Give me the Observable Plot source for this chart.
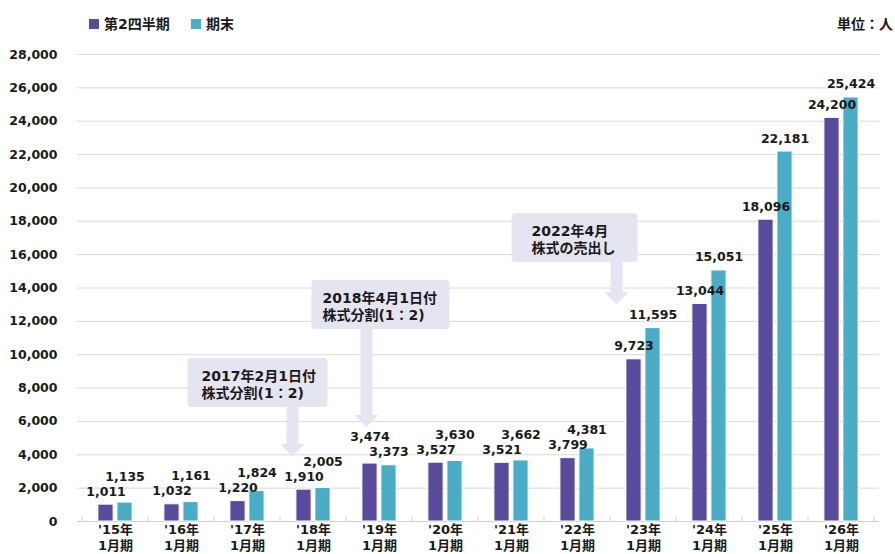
<!DOCTYPE html>
<html lang="ja">
<head>
<meta charset="utf-8">
<script src="https://cdn.jsdelivr.net/npm/d3@7"></script>
<script src="https://cdn.jsdelivr.net/npm/@observablehq/plot@0.6"></script>
<style>
  html, body { margin: 0; padding: 0; background: #fff; }
  body { width: 895px; font-family: "DejaVu Sans", "Noto Sans CJK JP", sans-serif; color: #1a1a1a; }
  .legend { position: relative; height: 40px; font-size: 14px; font-weight: bold; }
  .legend .item { position: absolute; top: 14px; display: flex; align-items: center; line-height: 20px; }
  .legend .swatch { width: 10px; height: 10px; margin-right: 5px; }
  .legend .unit { position: absolute; right: 2px; top: 14px; line-height: 20px; }
</style>
</head>
<body>
<div class="legend" id="legend"></div>
<div id="chart"></div>
<script>
// Fiscal periods (January year-end)
const categories = ["'15年1月期", "'16年1月期", "'17年1月期", "'18年1月期", "'19年1月期", "'20年1月期",
                    "'21年1月期", "'22年1月期", "'23年1月期", "'24年1月期", "'25年1月期", "'26年1月期"];
const seriesNames = ["第2四半期", "期末"];
// Headcount at the end of Q2 and at fiscal year end
const q2Values = [1011, 1032, 1220, 1910, 3474, 3527, 3521, 3799, 9723, 13044, 18096, 24200];
const fyValues = [1135, 1161, 1824, 2005, 3373, 3630, 3662, 4381, 11595, 15051, 22181, 25424];
const yTicks = [0, 2000, 4000, 6000, 8000, 10000, 12000, 14000, 16000, 18000, 20000, 22000, 24000, 26000, 28000];
const unitLabel = "単位：人";

// Event call-outs: the period they point at, the value at the arrow tip and at the box top
const notes = [
  {cat: "'18年1月期", tip: 3900, top: 9770, lines: ["2017年2月1日付", "株式分割(1：2)"]},
  {cat: "'19年1月期", tip: 5630, top: 14450, lines: ["2018年4月1日付", "株式分割(1：2)"]},
  {cat: "'23年1月期", tip: 13000, top: 18460, lines: ["2022年4月", "株式の売出し"]}
];

// Call-out box placement relative to the arrow (pixels)
const noteLayout = [
  {at: 0.19, left: -105, width: 140, pad: 14},
  {at: 0.31, left: -55, width: 138, pad: 11},
  {at: 0.10, left: -105, width: 126, pad: 20}
];

const colors = ["#594a9b", "#4bacc6"];
const fmt = d3.format(",");

const rows = categories.flatMap((cat, i) => [
  {cat, series: seriesNames[0], value: q2Values[i], other: fyValues[i]},
  {cat, series: seriesNames[1], value: fyValues[i], other: q2Values[i]}
]);
// When the two bars of a period are close, lift the taller bar's label above its neighbour
const labelGap = 900;
rows.forEach(d => {
  d.labelY = (d.value >= d.other && d.value - d.other < labelGap) ? d.other + labelGap : d.value;
});

// Legend and unit
const legend = d3.select("#legend");
const legendX = [89, 191];
seriesNames.forEach((name, i) => {
  const item = legend.append("div").attr("class", "item").style("left", legendX[i] + "px");
  item.append("div").attr("class", "swatch").style("background", colors[i]);
  item.append("span").text(name);
});
legend.append("div").attr("class", "unit").text(unitLabel);

// Category boundary ticks and call-out boxes, positioned with the plot's scales
function overlay(index, scales, values, dimensions) {
  const x = scales.x, y = scales.y;
  const bw = x.bandwidth ? x.bandwidth()
    : (dimensions.width - dimensions.marginLeft - dimensions.marginRight) / categories.length;
  const g = d3.create("svg:g");
  const y0 = y(0);
  const bounds = categories.map(c => x(c)).concat([x(categories[categories.length - 1]) + bw]);
  g.selectAll("line").data(bounds).join("line")
    .attr("x1", d => d).attr("x2", d => d)
    .attr("y1", y0 - 4).attr("y2", y0)
    .attr("stroke", "#cfcfcf");

  notes.forEach((n, i) => {
    const L = noteLayout[i];
    const tx = x(n.cat) + L.at * bw;
    const ty = y(n.tip);
    const top = y(n.top);
    const h = 49;
    const bx = tx + L.left;
    const bottom = top + h;
    const shaft = 6, head = 12, headH = 12;
    const fill = "#e5e4f1";
    g.append("rect")
      .attr("x", bx).attr("y", top).attr("width", L.width).attr("height", h)
      .attr("rx", 4).attr("fill", fill);
    g.append("path")
      .attr("d", `M${tx - shaft},${bottom - 1} L${tx + shaft},${bottom - 1} L${tx + shaft},${ty - headH}
                  L${tx + head},${ty - headH} L${tx},${ty} L${tx - head},${ty - headH}
                  L${tx - shaft},${ty - headH} Z`)
      .attr("fill", fill);
    const t = g.append("text")
      .attr("text-anchor", "start")
      .attr("font-size", 14).attr("font-weight", "bold").attr("fill", "#1a1a1a");
    n.lines.forEach((line, k) => {
      t.append("tspan").attr("x", bx + L.pad).attr("y", top + 18 + k * 17)
        .attr("dy", "0.35em").text(line);
    });
  });
  return g.node();
}

const chart = Plot.plot({
  width: 895,
  height: 514,
  marginTop: 14,
  marginBottom: 33,
  marginLeft: 77,
  marginRight: 16,
  style: {
    fontFamily: "'DejaVu Sans', 'Noto Sans CJK JP', sans-serif",
    fontSize: "12.5px",
    fontWeight: "bold",
    color: "#1a1a1a",
    background: "#fff"
  },
  x: {domain: categories, padding: 0, label: null},
  y: {domain: [0, 28000], label: null},
  marks: [
    Plot.gridY(yTicks, {stroke: "#dadada", strokeOpacity: 1}),
    Plot.axisY(yTicks, {tickSize: 0, tickPadding: 20, tickFormat: fmt, label: null}),
    Plot.axisX({tickSize: 0, tickPadding: 1, tickFormat: d => d.replace("年", "年\n"),
                label: null, fontSize: 13, lineHeight: 1.22}),
    Plot.ruleY([0], {stroke: "#cfcfcf"}),
    overlay,
    Plot.barY(rows.filter(d => d.series === seriesNames[0]), {
      x: "cat", y: "value", fill: colors[0], stroke: "#fff", strokeWidth: 1,
      insetLeft: 25.4, insetRight: 25.4, dx: -9.5
    }),
    Plot.barY(rows.filter(d => d.series === seriesNames[1]), {
      x: "cat", y: "value", fill: colors[1], stroke: "#fff", strokeWidth: 1,
      insetLeft: 25.4, insetRight: 25.4, dx: 9.5
    }),
    Plot.text(rows.filter(d => d.series === seriesNames[0]), {
      x: "cat", y: "labelY", text: d => fmt(d.value), dx: -9.5, dy: -13, fill: "#1a1a1a"
    }),
    Plot.text(rows.filter(d => d.series === seriesNames[1]), {
      x: "cat", y: "labelY", text: d => fmt(d.value), dx: 9.5, dy: -13, fill: "#1a1a1a"
    })
  ]
});
document.getElementById("chart").appendChild(chart);
</script>
</body>
</html>
